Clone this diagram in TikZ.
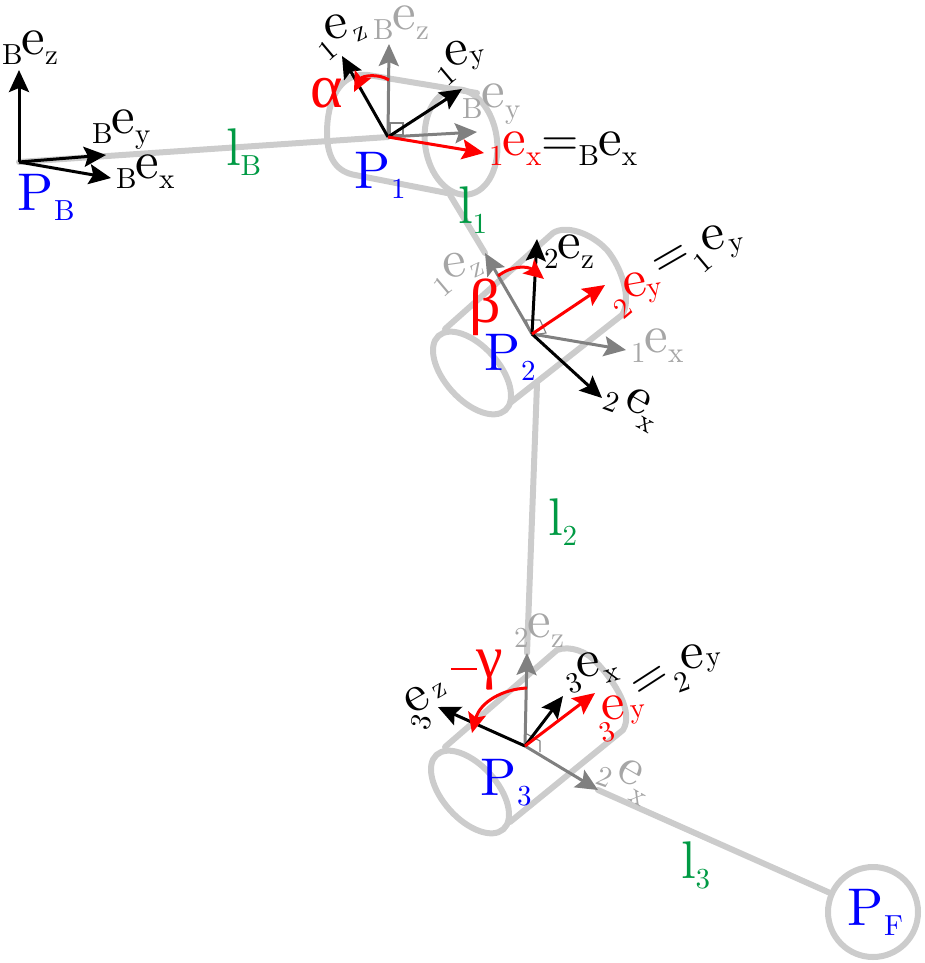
\documentclass[tikz,border=0pt]{standalone}
\usepackage{fontspec}
\usepackage{graphicx}
\setmainfont{lmroman10-regular.otf}
\newfontfamily\grk{Liberation Serif}
\usetikzlibrary{arrows.meta}
\definecolor{cyl}{HTML}{CCCCCC}
\definecolor{garrow}{HTML}{808080}
\definecolor{gtext}{HTML}{A6A6A6}
\definecolor{lgreen}{HTML}{009A44}
\newcommand{\bigf}{\fontsize{53}{53}\selectfont}
\newcommand{\eqf}{\fontsize{48}{48}\selectfont}
\newcommand{\sml}{\fontsize{29}{29}\selectfont}
\newcommand{\lowr}[1]{\raisebox{-10pt}{\sml #1}}
\newcommand{\elab}[2]{\lowr{#1}\kern-1pt\bigf e\lowr{#2}}
\newcommand{\plab}[2]{\bigf #1\kern1pt\lowr{#2}}
\tikzset{
  x=1pt,y=-1pt,
  cylline/.style={draw=cyl,line width=6pt,line join=round,line cap=round},
  vec/.style={line width=3pt,-{Stealth[length=22pt,width=20pt,inset=4pt]}},
  bvec/.style={vec,draw=black},
  gvec/.style={vec,draw=garrow},
  rvec/.style={vec,draw=red},
  rarc/.style={line width=3pt,draw=red,-{Stealth[length=20pt,width=18pt,inset=4pt]}},
  corner/.style={draw=garrow,line width=1.1pt},
  lab/.style={anchor=base west,inner sep=0pt,outer sep=0pt},
  glyph/.style={anchor=center,inner sep=0pt,outer sep=0pt,font=\bigf},
  eqglyph/.style={anchor=center,inner sep=0pt,outer sep=0pt,font=\eqf},
  subglyph/.style={anchor=center,inner sep=0pt,outer sep=0pt,font=\sml},
}
% name, colour, text, x, y, rotation
\newcommand{\glS}[6]{\node[subglyph,text=#2,rotate=#6] (#1) at (#4,#5) {#3};}
\newcommand{\glE}[5]{\node[glyph,text=#2,rotate=#5] (#1) at (#3,#4) {e};}
\begin{document}
\begin{tikzpicture}
\useasboundingbox (0,0) rectangle (924,963);
% frame origins and arrow tips
\coordinate (OB) at (19,162);
\coordinate (O1) at (388,137);
\coordinate (O2) at (532,334);
\coordinate (O3) at (525,746);
\coordinate (BzT) at (19,70);
\coordinate (ByT) at (106,155);
\coordinate (BxT) at (111,178);
\coordinate (oneZ) at (342,56);
\coordinate (bZ) at (389,44);
\coordinate (oneY) at (462,89);
\coordinate (bY) at (477,132);
\coordinate (oneX) at (484,153);
\coordinate (twoZ) at (537,239);
\coordinate (oneZb) at (485,253);
\coordinate (twoY) at (605,285);
\coordinate (oneXb) at (626,350);
\coordinate (twoX) at (602,398);
\coordinate (thrZ) at (438,707);
\coordinate (twoZb) at (527,653);
\coordinate (thrX) at (563,696);
\coordinate (thrY) at (595,693);
\coordinate (twoXb) at (598,790);
\coordinate (l1start) at (450,195);
\coordinate (l2start) at (537,384);
% end point
\node[circle,draw=cyl,line width=6pt,minimum size=90pt,inner sep=0pt] (PFc) at (873,912) {};
% cylinder 1
\draw[cylline] (477,93) -- (368,75) .. controls (340,72) and (327,100) .. (327,133) .. controls (327,160) and (338,172) .. (355,175) -- (447,193);
\draw[cylline] (461,142) ellipse [x radius=36pt,y radius=53pt,rotate=8];
% cylinder 2
\draw[cylline] (472,373) ellipse [x radius=50pt,y radius=27pt,rotate=-48];
\draw[cylline] (445,329) -- (553,233) .. controls (565,225) and (590,232) .. (607,250) .. controls (622,268) and (632,300) .. (622,315) -- (510,403);
% cylinder 3
\draw[cylline] (470,792) ellipse [x radius=50pt,y radius=27pt,rotate=-48];
\draw[cylline] (445,747) -- (557,650) .. controls (570,645) and (588,652) .. (597,663) .. controls (615,682) and (634,712) .. (623,730) -- (510,822);
% links
\draw[cylline] (OB) -- (O1);
\draw[cylline] (l1start) -- (oneZb);
\draw[cylline] (l2start) -- (twoZb);
\draw[cylline] (twoXb) -- (PFc);
% base frame
\draw[bvec] (OB) -- (BzT);
\draw[bvec] (OB) -- (ByT);
\draw[bvec] (OB) -- (BxT);
% frame 1
\draw[corner] (390,123) rectangle (403,135);
\draw[gvec] (O1) -- (bZ);
\draw[gvec] (O1) -- (bY);
\draw[bvec] (O1) -- (oneZ);
\draw[bvec] (O1) -- (oneY);
\draw[rvec] (O1) -- (oneX);
\draw[rarc] (389,80) .. controls (378,73) and (362,76) .. (354,92);
% frame 2
\draw[corner] (526,320) -- (540,320) -- (546,333) -- (532,335) -- cycle;
\draw[gvec] (O2) -- (oneZb);
\draw[gvec] (O2) -- (oneXb);
\draw[bvec] (O2) -- (twoZ);
\draw[bvec] (O2) -- (twoX);
\draw[rvec] (O2) -- (twoY);
\draw[rarc] (498,276) .. controls (512,265) and (528,266) .. (544,279);
% frame 3
\draw[corner] (525,733) -- (540,741) -- (540,752);
\draw[gvec] (O3) -- (twoZb);
\draw[gvec] (O3) -- (twoXb);
\draw[bvec] (O3) -- (thrZ);
\draw[bvec] (O3) -- (thrX);
\draw[rvec] (O3) -- (thrY);
\draw[rarc] (527,688) .. controls (503,689) and (480,702) .. (472,733);
% points
\node[lab,text=blue] (PB) at (17,210) {\plab{P}{B}};
\node[lab,text=blue] (P1) at (354,188) {\plab{P}{1}};
\node[lab,text=blue] (P2) at (484,370) {\plab{P}{2}};
\node[lab,text=blue] (P3) at (480,795) {\plab{P}{3}};
\node[lab,text=blue] (PF) at (847,925) {\plab{P}{F}};
% links labels
\node[lab,text=lgreen] (lB) at (226,165) {\bigf l\lowr{B}};
\node[lab,text=lgreen] (l1) at (458,223) {\bigf l\lowr{1}};
\node[lab,text=lgreen] (l2) at (548,535) {\bigf l\lowr{2}};
\node[lab,text=lgreen] (l3) at (681,878) {\bigf l\lowr{3}};
% upright vector labels
\node[lab] (Bz) at (2,55) {\elab{B}{z}};
\node[lab] (By) at (92,133) {\elab{B}{y}};
\node[lab] (Bx) at (116,178) {\elab{B}{x}};
\node[lab,text=gtext] (Bzg) at (373,30) {\elab{B}{z}};
\node[lab,text=gtext] (Byg) at (462,108) {\elab{B}{y}};
\node[lab] (oneXeq) at (489,155) {\textcolor{red}{\elab{1}{x}}\eqf =\elab{B}{x}};
\node[lab] (twoZl) at (544,258) {\elab{2}{z}};
\node[lab,text=gtext] (oneXl) at (631,352) {\elab{1}{x}};
\node[lab,text=gtext] (twoZg) at (514,637) {\elab{2}{z}};
% tilted vector labels
\glS{a1}{black}{1}{328}{50}{40}\glE{a2}{black}{336}{27}{10}\glS{a3}{black}{z}{361}{34}{25}
\glS{b1}{black}{1}{447}{75}{40}\glE{b2}{black}{457}{53}{8}\glS{b3}{black}{y}{478}{60}{10}
\glS{c1}{gtext}{1}{443}{286}{40}\glE{c2}{gtext}{455}{265}{8}\glS{c3}{gtext}{z}{478}{270}{25}
\glS{d1}{black}{1}{703}{262}{40}\glE{d2}{black}{713}{238}{10}\glS{d3}{black}{y}{737}{248}{10}
\glS{e1}{red}{2}{623}{308}{40}\glE{e2}{red}{635}{285}{10}\glS{e3}{red}{y}{655}{293}{10}
\glS{f1}{black}{2}{612}{402}{-20}\glE{f2}{black}{638}{401}{-30}\glS{f3}{black}{x}{645}{425}{-30}
\glS{g1}{black}{3}{574}{683}{20}\glE{g2}{black}{588}{665}{5}\glS{g3}{black}{x}{612}{675}{15}
\glS{h1}{black}{2}{682}{682}{20}\glE{h2}{black}{692}{657}{5}\glS{h3}{black}{y}{714}{663}{5}
\glS{i1}{red}{3}{607}{732}{20}\glE{i2}{red}{613}{708}{5}\glS{i3}{red}{y}{638}{715}{5}
\glS{j1}{black}{3}{421}{722}{75}\glE{j2}{black}{417}{700}{30}\glS{j3}{black}{z}{440}{691}{30}
\glS{k1}{gtext}{2}{605}{777}{-20}\glE{k2}{gtext}{630}{772}{-30}\glS{k3}{gtext}{x}{637}{798}{-30}
% equals signs
\node[eqglyph,rotate=30] (eq1) at (672,261) {=};
\node[eqglyph,rotate=33] (eq2) at (651,682) {=};
% angles
\node[anchor=center,inner sep=0pt,text=red,font=\grk\fontsize{62}{62}\selectfont] (alpha) at (327,93) {α};
\node[anchor=center,inner sep=0pt,text=red,font=\grk\fontsize{62}{62}\selectfont] (beta) at (485,307) {β};
\node[anchor=center,inner sep=0pt,text=red,font=\grk\fontsize{60}{60}\selectfont] (gamma) at (477,670) {\raisebox{7pt}{\rule{26pt}{2.5pt}}γ};
\end{tikzpicture}
\end{document}
